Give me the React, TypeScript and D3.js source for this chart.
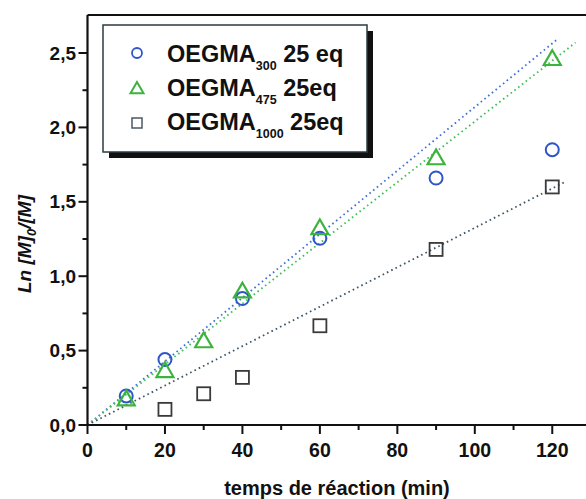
import React from "react";
import * as d3 from "d3";

const circleX = [10, 20, 40, 60, 90, 120];
const circleY = [0.195, 0.44, 0.85, 1.255, 1.66, 1.85];
const triX = [10, 20, 30, 40, 60, 90, 120];
const triY = [0.17, 0.36, 0.56, 0.895, 1.32, 1.79, 2.457];
const squareX = [20, 30, 40, 60, 90, 120];
const squareY = [0.105, 0.21, 0.32, 0.667, 1.18, 1.6];

const fitSlopes = [0.02137, 0.0204, 0.01325];
const fitEnds = [121, 126, 123];
const fitColors = ["#3f6fd8", "#3fbf5a", "#3d5566"];

const xTicks = [0, 20, 40, 60, 80, 100, 120];
const xMinor = [10, 30, 50, 70, 90, 110];
const yTicks = [0, 0.5, 1.0, 1.5, 2.0, 2.5];
const yMinor = [0.25, 0.75, 1.25, 1.75, 2.25];

const legendNames = ["OEGMA", "OEGMA", "OEGMA"];
const legendSubs = ["300", "475", "1000"];
const legendSuffix = [" 25 eq", " 25eq", " 25eq"];

const W = 586;
const H = 499;
const left = 87.5;
const right = 591;
const top = 15;
const bottom = 425;

const FONT = "'Liberation Sans', Arial, sans-serif";

export default function App() {
  const x = d3.scaleLinear().domain([0, 130]).range([left, right]);
  const y = d3.scaleLinear().domain([0, 2.7555]).range([bottom, top]);
  const fmt = (v: number) => d3.format(".1f")(v).replace(".", ",");
  const line = d3.line<[number, number]>().x((d) => x(d[0])).y((d) => y(d[1]));

  const circleC = "#2f56c9";
  const triC = "#3cb33c";
  const sqC = "#3a3a3a";

  const tri = (cx: number, cy: number, s: number) => {
    const h = s * 0.866;
    return `M${cx},${cy - h * 0.62} L${cx + s / 2},${cy + h * 0.38} L${cx - s / 2},${cy + h * 0.38} Z`;
  };

  return (
    <svg
      width={W}
      height={H}
      style={{ position: "absolute", left: 0, top: 0, background: "#fff" }}
      fontFamily={FONT}
    >
      <rect x={0} y={0} width={W} height={H} fill="#fff" />
      {fitSlopes.map((s, i) => (
        <path
          key={"fit" + i}
          d={line([
            [0, 0],
            [fitEnds[i], s * fitEnds[i]],
          ]) || ""}
          fill="none"
          stroke={fitColors[i]}
          strokeWidth={1.8}
          strokeDasharray="1.6,3.2"
        />
      ))}
      {squareX.map((v, i) => (
        <rect
          key={"sq" + i}
          x={x(v) - 6.5}
          y={y(squareY[i]) - 6.5}
          width={13}
          height={13}
          fill="none"
          stroke={sqC}
          strokeWidth={1.8}
        />
      ))}
      {circleX.map((v, i) => (
        <circle
          key={"c" + i}
          cx={x(v)}
          cy={y(circleY[i])}
          r={6.5}
          fill="none"
          stroke={circleC}
          strokeWidth={2}
        />
      ))}
      {triX.map((v, i) => (
        <path
          key={"t" + i}
          d={tri(x(v), y(triY[i]), 17)}
          fill="none"
          stroke={triC}
          strokeWidth={2.2}
        />
      ))}
      <line x1={left} x2={W} y1={top} y2={top} stroke="#111" strokeWidth={2.2} />
      <line x1={left} x2={left} y1={top} y2={bottom + 1} stroke="#111" strokeWidth={2.2} />
      <line x1={left - 1} x2={W} y1={bottom} y2={bottom} stroke="#111" strokeWidth={2.2} />
      {xTicks.map((t) => (
        <g key={"xt" + t}>
          <line x1={x(t)} x2={x(t)} y1={bottom} y2={bottom + 9} stroke="#111" strokeWidth={2} />
          <text x={x(t)} y={457} textAnchor="middle" fontSize={19.5} fontWeight="bold" fill="#111">
            {t}
          </text>
        </g>
      ))}
      {xMinor.map((t) => (
        <line key={"xm" + t} x1={x(t)} x2={x(t)} y1={bottom} y2={bottom + 5} stroke="#111" strokeWidth={2} />
      ))}
      {yTicks.map((t) => (
        <g key={"yt" + t}>
          <line x1={left - 9} x2={left} y1={y(t)} y2={y(t)} stroke="#111" strokeWidth={2} />
          <text x={76} y={y(t) + 6.5} textAnchor="end" fontSize={19} fontWeight="bold" fill="#111">
            {fmt(t)}
          </text>
        </g>
      ))}
      {yMinor.map((t) => (
        <line key={"ym" + t} x1={left - 5} x2={left} y1={y(t)} y2={y(t)} stroke="#111" strokeWidth={2} />
      ))}
      <text x={337} y={495} textAnchor="middle" fontSize={20} fontWeight="bold" fill="#111">
        temps de réaction (min)
      </text>
      <text
        transform={`translate(31,244) rotate(-90)`}
        textAnchor="middle"
        fontSize={19}
        fontWeight="bold"
        fontStyle="italic"
        fill="#111"
      >
        Ln [M]
        <tspan fontSize={13} dy={5}>0</tspan>
        <tspan dy={-5}>/[M]</tspan>
      </text>
      <rect x={109} y={31} width={264} height={127} fill="#111" />
      <rect x={103} y={25} width={264} height={127} fill="#fff" stroke="#2d3b40" strokeWidth={1.5} />
      <circle cx={137} cy={53} r={5} fill="none" stroke={circleC} strokeWidth={1.8} />
      <path d={tri(137, 89, 13)} fill="none" stroke={triC} strokeWidth={2} />
      <rect x={132} y={118} width={10} height={10} fill="none" stroke="#4a5a60" strokeWidth={1.5} />
      {legendNames.map((n, i) => (
        <text key={"lg" + i} x={167} y={62 + i * 34} fontSize={23.5} fontWeight="bold" fill="#111">
          {n}
          <tspan fontSize={12.5} dy={8}>
            {legendSubs[i]}
          </tspan>
          <tspan dy={-8}>{legendSuffix[i]}</tspan>
        </text>
      ))}
    </svg>
  );
}
